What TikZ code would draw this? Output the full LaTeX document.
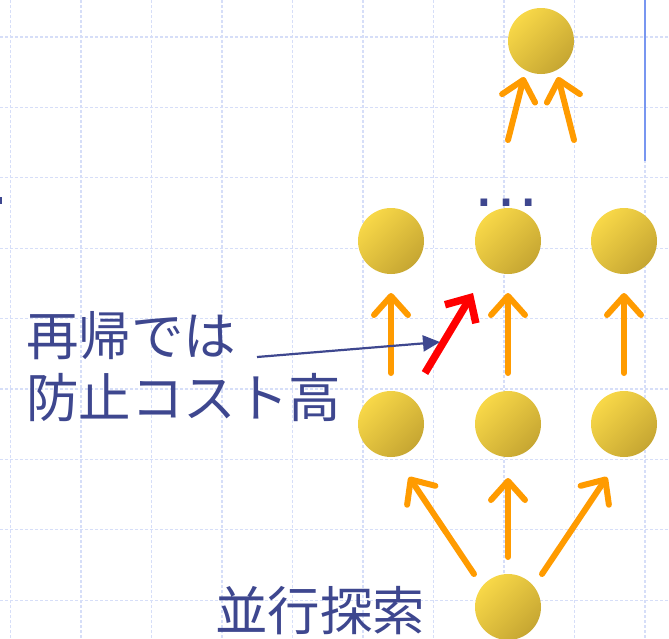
\documentclass[tikz,border=0pt]{standalone}
\usepackage{fontspec}
\newfontfamily\jpfont{Noto Sans CJK JP}
\newfontfamily\arialfont{Liberation Sans}
\usetikzlibrary{arrows.meta}
\definecolor{txtblue}{RGB}{62,71,143}
\definecolor{gridcol}{RGB}{214,222,248}
\definecolor{ballL}{RGB}{248,216,72}
\definecolor{ballD}{RGB}{198,166,50}
\definecolor{orng}{RGB}{255,155,0}
\definecolor{vline}{RGB}{120,150,240}
\tikzset{
  gridline/.style={draw=gridcol, line width=1.3pt, dash pattern=on 3pt off 2pt},
  ball/.style={circle, minimum size=66pt, inner sep=0pt, top color=ballL, bottom color=ballD, shading angle=45},
  jp/.style={font=\jpfont\fontsize{52.5}{62}\selectfont, text=txtblue, inner sep=0pt},
  oarrow/.style={draw=orng, line width=6pt, line cap=round, -{Straight Barb[length=19pt,width=34pt,line cap=round,line join=round]}},
  rarrow/.style={draw=red, line width=7.5pt, line cap=butt, -{Straight Barb[length=19pt,width=36pt,line cap=butt,line join=miter]}},
  callout/.style={draw=txtblue, line width=2.2pt, -{Triangle[length=17pt,width=16pt]}}
}
\begin{document}
\begin{tikzpicture}[x=1pt,y=-1pt]
\useasboundingbox (0,0) rectangle (669,638);
\fill[white] (0,0) rectangle (669,638);
\foreach \gx in {0,...,9} \draw[gridline] ({10.5+70.5*\gx},0) -- ({10.5+70.5*\gx},638);
\foreach \gy in {0,...,8} \draw[gridline] (0,{37+70.4*\gy}) -- (669,{37+70.4*\gy});
% right blue line and left edge mark
\coordinate (vtop) at (645,0);
\coordinate (vbot) at (645,161);
\draw[vline, line width=2.2pt] (vtop) -- (vbot);
\fill[txtblue] (0,197) rectangle (1.8,204);
% nodes
\node[ball] (top) at (541,41) {};
\node[ball] (m1) at (391,241) {};
\node[ball] (m2) at (508,241) {};
\node[ball] (m3) at (624,241) {};
\node[ball] (b1) at (391,424) {};
\node[ball] (b2) at (508,424) {};
\node[ball] (b3) at (624,424) {};
\node[ball] (root) at (508,607) {};
\node[font=\arialfont\fontsize{70}{70}\selectfont, text=txtblue, inner sep=0pt, anchor=base] (dots) at (506,206.5) {…};
% arrow end points
\coordinate (r1s) at (474,574); \coordinate (r1e) at (409,477);
\coordinate (r2s) at (508,557); \coordinate (r2e) at (508,478);
\coordinate (r3s) at (542,574); \coordinate (r3e) at (607,477);
\coordinate (u1s) at (391,373); \coordinate (u1e) at (391,293);
\coordinate (u2s) at (508,373); \coordinate (u2e) at (508,293);
\coordinate (u3s) at (624,373); \coordinate (u3e) at (624,293);
\coordinate (rds) at (425,373); \coordinate (rde) at (473,293);
\coordinate (t1s) at (508,140); \coordinate (t1e) at (524,77);
\coordinate (t2s) at (574,140); \coordinate (t2e) at (558,77);
\draw[oarrow] (r1s) -- (r1e);
\draw[oarrow] (r2s) -- (r2e);
\draw[oarrow] (r3s) -- (r3e);
\draw[oarrow] (u1s) -- (u1e);
\draw[oarrow] (u2s) -- (u2e);
\draw[oarrow] (u3s) -- (u3e);
\draw[oarrow] (t1s) -- (t1e);
\draw[oarrow] (t2s) -- (t2e);
\draw[rarrow] (rds) -- (rde);
% labels
\node[jp, anchor=north west, align=left] (lbl) at (26,311) {再帰では\\防止コスト高};
\node[jp, anchor=north west] (par) at (215,586) {並行探索};
\coordinate (cs) at (257,357);
\coordinate (ce) at (440,342);
\draw[callout] (cs) -- (ce);
\end{tikzpicture}
\end{document}
